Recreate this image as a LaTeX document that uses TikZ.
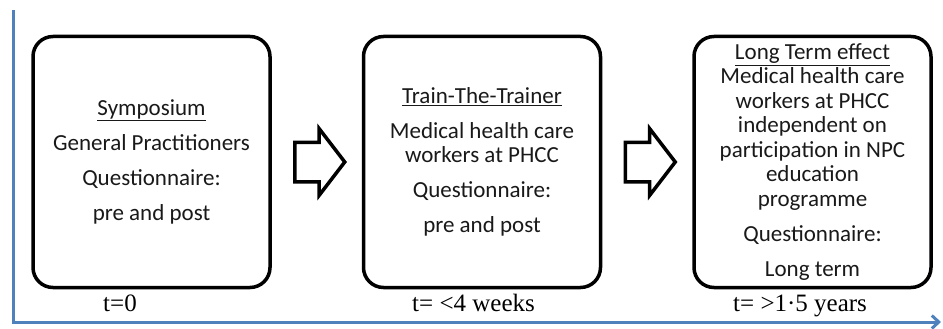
\documentclass[tikz,border=0pt]{standalone}
\usepackage{fontspec}
\setmainfont{Carlito}
\newfontfamily\timefont{Liberation Serif}
\usetikzlibrary{
    shapes.arrows,
    arrows.meta,
    positioning,
    calc,
}
\definecolor{axisblue}{RGB}{79,129,189}

\begin{document}
\begin{tikzpicture}[x=1pt,y=-1pt,>={Straight Barb[length=7pt,width=13pt]}]

    \tikzstyle{commonNode}=[align=center, text=black!90, font=\fontsize{23}{24.5}\selectfont]
    \tikzstyle{stage}=[commonNode, draw=black, line width=3.5pt, rounded corners=20pt, minimum width=237pt, minimum height=251pt, inner sep=0pt]
    \tikzstyle{blockArrow}=[single arrow, draw=black, line width=3.5pt, minimum height=50pt, single arrow head extend=13.5pt, single arrow tip angle=105, inner xsep=0pt, inner ysep=18pt, outer sep=0pt, anchor=tail]
    \tikzstyle{timeLabel}=[font=\timefont\fontsize{25}{26}\selectfont, anchor=base west, inner sep=0pt]
    \tikzstyle{timeAxis}=[draw=axisblue, line width=3pt]

    \useasboundingbox (0,0) rectangle (943,329);

    \begin{scope}
        % Spacing the stages out
        \def \hspacing {330.5}
        \def \vmid {162}

        % Time axis
        \coordinate (axisTop) at (13,10);
        \coordinate (origin) at (13,322);
        \coordinate (axisEnd) at (941,322);
        \draw [timeAxis, ->] (axisTop) -- (origin) -- (axisEnd);

        % Stages
        \node at (151.5+0*\hspacing, \vmid) [stage] (S)  {\underline{Symposium}\\[10.5pt]
            General Practitioners\\[10.5pt]
            Questionnaire:\\[10.5pt]
            pre and post};
        \node at (151.5+1*\hspacing, \vmid) [stage] (TT) {\underline{Train-The-Trainer}\\[10.5pt]
            Medical health care\\ workers at PHCC\\[10.5pt]
            Questionnaire:\\[10.5pt]
            pre and post};
        \node at (151.5+2*\hspacing, \vmid) [stage] (LT) {\underline{Long Term effect}\\
            Medical health care\\ workers at PHCC\\ independent on\\ participation in NPC\\ education\\ programme\\[10.5pt]
            Questionnaire:\\[10.5pt]
            Long term};

        % Arrows between stages
        \node at ($(S.east)+(23,0)$)  [blockArrow] (A1) {};
        \node at ($(TT.east)+(23,0)$) [blockArrow] (A2) {};

        % Times
        \node at (103, 311) [timeLabel] (T0) {t=0};
        \node at (412, 311) [timeLabel] (T1) {t= <4 weeks};
        \node at (733, 311) [timeLabel] (T2) {t= >1·5 years};
    \end{scope}
\end{tikzpicture}
\end{document}
